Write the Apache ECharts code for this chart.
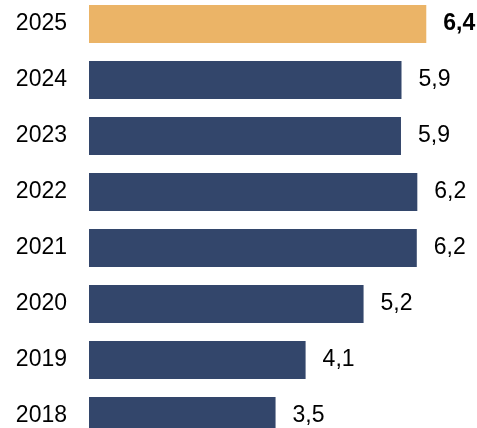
<!DOCTYPE html>
<html>
<head>
<meta charset="utf-8">
<script src="https://cdn.jsdelivr.net/npm/echarts@6/dist/echarts.min.js"></script>
<style>html,body{margin:0;padding:0;background:#fff;}#c{width:477px;height:428px;}</style>
</head>
<body>
<div id="c"></div>
<script>
const years = ['2025','2024','2023','2022','2021','2020','2019','2018'];
const values = [6.4, 5.93, 5.92, 6.23, 6.22, 5.21, 4.11, 3.54];
const highlightYear = '2025';
const colorMain = '#33466b';
const colorHighlight = '#ebb467';

const chart = echarts.init(document.getElementById('c'), null, {renderer:'canvas'});
chart.setOption({
  animation: false,
  grid: { left: 89, top: -4, height: 448, width: 368.9, outerBoundsMode: 'none', containLabel: false },
  xAxis: { type: 'value', min: 0, max: 7, show: false },
  yAxis: {
    type: 'category', data: years, inverse: true,
    axisLine: {show:false}, axisTick: {show:false},
    axisLabel: { color: '#000', fontFamily: '"Liberation Sans", Arial', fontSize: 23, margin: 22 }
  },
  series: [{
    type: 'bar', barWidth: 38,
    data: values.map((v,i) => ({
      value: v,
      itemStyle: { color: years[i] === highlightYear ? colorHighlight : colorMain },
      label: years[i] === highlightYear ? { fontWeight: 'bold' } : {}
    })),
    label: {
      show: true, position: 'right', distance: 17,
      color: '#000', fontFamily: '"Liberation Sans", Arial', fontSize: 23,
      formatter: p => p.value.toFixed(1).replace('.', ',')
    }
  }]
});
</script>
</body>
</html>
